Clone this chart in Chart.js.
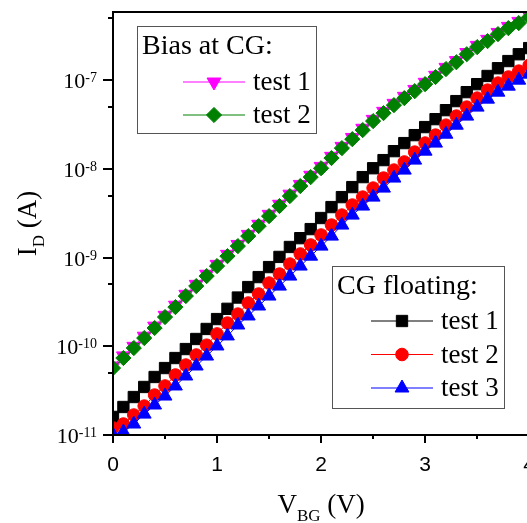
<!DOCTYPE html>
<html>
<head>
<meta charset="utf-8">
<script src="https://cdn.jsdelivr.net/npm/chart.js@4.4.1/dist/chart.umd.min.js"></script>
<style>
	html, body { margin: 0; padding: 0; background: #fff; overflow: hidden; }
	#wrap { width: 560px; height: 523px; }
</style>
</head>
<body>
<div id="wrap"><canvas id="chart" width="560" height="523"></canvas></div>
<script>
// V_BG sweep (V)
const vbg = [
	0, 0.1, 0.2, 0.3, 0.4, 0.5, 0.6, 0.7, 0.8, 0.9, 1.0, 1.1, 1.2, 1.3, 1.4, 1.5, 1.6, 1.7, 1.8, 1.9, 2.0,
	2.1, 2.2, 2.3, 2.4, 2.5, 2.6, 2.7, 2.8, 2.9, 3.0, 3.1, 3.2, 3.3, 3.4, 3.5, 3.6, 3.7, 3.8, 3.9, 4.0,
];

// CG floating
const floatTest1 = [
	1.6e-11, 2.07e-11, 2.68e-11, 3.48e-11, 4.51e-11, 5.69e-11, 7.38e-11, 9.32e-11, 1.21e-10, 1.57e-10,
	2.03e-10, 2.65e-10, 3.55e-10, 4.66e-10, 6.04e-10, 7.83e-10, 1.02e-9, 1.32e-9, 1.66e-9, 2.1e-9,
	2.8e-9, 3.72e-9, 4.82e-9, 6.25e-9, 8.1e-9, 1.02e-8, 1.26e-8, 1.59e-8, 1.96e-8, 2.41e-8,
	2.97e-8, 3.65e-8, 4.61e-8, 5.83e-8, 7.36e-8, 9.06e-8, 1.12e-7, 1.37e-7, 1.65e-7, 1.97e-7, 2.31e-7,
];
const floatTest2 = [
	1.2e-11, 1.33e-11, 1.68e-11, 2.12e-11, 2.82e-11, 3.57e-11, 4.75e-11, 6.15e-11, 7.98e-11, 1.03e-10,
	1.38e-10, 1.83e-10, 2.31e-10, 3.08e-10, 3.89e-10, 5.17e-10, 6.53e-10, 8.47e-10, 1.1e-9, 1.39e-9,
	1.8e-9, 2.33e-9, 3.02e-9, 3.92e-9, 4.82e-9, 6.09e-9, 7.9e-9, 9.72e-9, 1.2e-8, 1.55e-8,
	1.96e-8, 2.41e-8, 3.12e-8, 3.95e-8, 4.99e-8, 6.3e-8, 7.75e-8, 9.3e-8, 1.09e-7, 1.27e-7, 1.48e-7,
];
const floatTest3 = [
	1.0e-11, 1.08e-11, 1.33e-11, 1.72e-11, 2.18e-11, 2.75e-11, 3.57e-11, 4.63e-11, 6.0e-11, 7.77e-11,
	1.01e-10, 1.31e-10, 1.74e-10, 2.2e-10, 2.85e-10, 3.69e-10, 4.78e-10, 6.2e-10, 8.04e-10, 1.04e-9,
	1.35e-9, 1.75e-9, 2.33e-9, 3.02e-9, 3.82e-9, 4.82e-9, 6.09e-9, 7.9e-9, 9.72e-9, 1.26e-8,
	1.59e-8, 1.96e-8, 2.47e-8, 3.12e-8, 3.95e-8, 4.99e-8, 6.14e-8, 7.36e-8, 8.6e-8, 1.005e-7, 1.175e-7,
];

// Bias at CG
const biasTest1 = [
	6.0e-11, 7.8e-11, 1.0e-10, 1.3e-10, 1.69e-10, 2.24e-10, 2.91e-10, 3.86e-10, 5.0e-10, 6.5e-10,
	8.4e-10, 1.09e-9, 1.41e-9, 1.83e-9, 2.38e-9, 3.08e-9, 4.0e-9, 5.2e-9, 6.7e-9, 8.5e-9,
	1.07e-8, 1.39e-8, 1.8e-8, 2.27e-8, 2.88e-8, 3.63e-8, 4.47e-8, 5.5e-8, 6.6e-8, 7.9e-8,
	9.5e-8, 1.14e-7, 1.4e-7, 1.67e-7, 2.06e-7, 2.48e-7, 2.9e-7, 3.47e-7, 4.06e-7, 4.62e-7, 5.4e-7,
];
const biasTest2 = [
	5.69e-11, 7.38e-11, 9.57e-11, 1.24e-10, 1.61e-10, 2.14e-10, 2.77e-10, 3.69e-10, 4.78e-10, 6.2e-10,
	8.04e-10, 1.04e-9, 1.35e-9, 1.75e-9, 2.27e-9, 2.94e-9, 3.82e-9, 4.95e-9, 6.42e-9, 8.1e-9,
	1.02e-8, 1.33e-8, 1.72e-8, 2.17e-8, 2.75e-8, 3.47e-8, 4.27e-8, 5.25e-8, 6.3e-8, 7.55e-8,
	9.06e-8, 1.09e-7, 1.34e-7, 1.6e-7, 1.97e-7, 2.37e-7, 2.77e-7, 3.32e-7, 3.88e-7, 4.42e-7, 5.16e-7,
];

// axis ticks
const xMajorTicks = [0, 1, 2, 3, 4];
const xMinorTicks = [0.5, 1.5, 2.5, 3.5];
const yMajorExps = [-11, -10, -9, -8, -7];
const yMinorTicks = [5e-11, 5e-10, 5e-9, 5e-8, 5e-7];

const SERIF = "'Liberation Serif', 'Times New Roman', serif";
const SANS = "'Liberation Sans', Arial, sans-serif";

const styles = {
	f1: { color: "#000000", pointStyle: "rect", radius: 8, rotation: 0 },
	f2: { color: "#ff0000", pointStyle: "circle", radius: 6.3, rotation: 0 },
	f3: { color: "#0000ff", pointStyle: "triangle", radius: 8, rotation: 0 },
	b1: { color: "#ff00ff", pointStyle: "triangle", radius: 8, rotation: 180 },
	b2: { color: "#008000", pointStyle: "rectRot", radius: 7.6, rotation: 0 },
};

function series(label, values, st) {
	return {
		label: label,
		data: vbg.map((v, i) => ({ x: v, y: values[i] })),
		borderColor: st.color,
		backgroundColor: st.color,
		borderWidth: 1,
		pointStyle: st.pointStyle,
		pointRadius: st.radius,
		pointRotation: st.rotation,
		pointBackgroundColor: st.color,
		pointBorderColor: st.color,
		pointBorderWidth: 1,
		tension: 0,
		clip: 0,
	};
}

function drawMarker(ctx, st, x, y) {
	ctx.save();
	ctx.fillStyle = st.color;
	ctx.strokeStyle = st.color;
	ctx.lineWidth = 1;
	const r = st.radius;
	ctx.beginPath();
	if (st.pointStyle === "rect") {
		const s = r * Math.SQRT1_2;
		ctx.rect(x - s, y - s, 2 * s, 2 * s);
	} else if (st.pointStyle === "circle") {
		ctx.arc(x, y, r, 0, Math.PI * 2);
	} else if (st.pointStyle === "rectRot") {
		ctx.moveTo(x - r, y);
		ctx.lineTo(x, y - r);
		ctx.lineTo(x + r, y);
		ctx.lineTo(x, y + r);
		ctx.closePath();
	} else {
		let rad = (st.rotation * Math.PI) / 180;
		ctx.moveTo(x + Math.sin(rad) * r, y - Math.cos(rad) * r);
		rad += (2 * Math.PI) / 3;
		ctx.lineTo(x + Math.sin(rad) * r, y - Math.cos(rad) * r);
		rad += (2 * Math.PI) / 3;
		ctx.lineTo(x + Math.sin(rad) * r, y - Math.cos(rad) * r);
		ctx.closePath();
	}
	ctx.fill();
	ctx.stroke();
	ctx.restore();
}

function legendBox(ctx, box, title, entries) {
	ctx.save();
	ctx.strokeStyle = "#555";
	ctx.lineWidth = 1;
	ctx.strokeRect(box.x + 0.5, box.y + 0.5, box.w, box.h);
	ctx.fillStyle = "#000";
	ctx.font = "28px " + SERIF;
	ctx.textBaseline = "alphabetic";
	ctx.textAlign = "left";
	ctx.fillText(title, box.x + 5, box.y + 28);
	entries.forEach((e, i) => {
		const cy = box.y + box.firstRow + i * box.rowGap;
		ctx.strokeStyle = e.st.color;
		ctx.lineWidth = 1;
		ctx.beginPath();
		ctx.moveTo(box.lineX0, cy);
		ctx.lineTo(box.lineX1, cy);
		ctx.stroke();
		drawMarker(ctx, e.st, (box.lineX0 + box.lineX1) / 2, cy);
		ctx.fillStyle = "#000";
		ctx.font = "27px " + SERIF;
		ctx.textBaseline = "middle";
		ctx.fillText(e.label, box.lineX1 + 8, cy + 1);
	});
	ctx.restore();
}

const axisDecor = {
	id: "axisDecor",
	afterDraw(chart) {
		const { ctx, chartArea: a } = chart;
		const xs = chart.scales.x;
		const ys = chart.scales.y;
		ctx.save();
		ctx.strokeStyle = "#000";
		ctx.lineWidth = 2;
		ctx.strokeRect(a.left, a.top, a.right - a.left, a.bottom - a.top);

		// y ticks
		yMajorExps.forEach(e => {
			const py = Math.round(ys.getPixelForValue(Math.pow(10, e)));
			ctx.beginPath();
			ctx.moveTo(a.left - 10, py);
			ctx.lineTo(a.left, py);
			ctx.stroke();
			ctx.fillStyle = "#000";
			ctx.textBaseline = "alphabetic";
			ctx.textAlign = "right";
			ctx.font = "14px " + SERIF;
			const expTxt = String(e);
			const ew = ctx.measureText(expTxt).width;
			ctx.fillText(expTxt, a.left - 16, py + 2);
			ctx.font = "22px " + SERIF;
			ctx.fillText("10", a.left - 16 - ew, py + 8);
		});
		yMinorTicks.forEach(v => {
			const py = Math.round(ys.getPixelForValue(v));
			if (py < a.top) return;
			ctx.beginPath();
			ctx.moveTo(a.left - 5, py);
			ctx.lineTo(a.left, py);
			ctx.stroke();
		});

		// x ticks
		xMajorTicks.forEach(v => {
			const px = Math.round(xs.getPixelForValue(v));
			ctx.beginPath();
			ctx.moveTo(px, a.bottom);
			ctx.lineTo(px, a.bottom + 8);
			ctx.stroke();
			ctx.fillStyle = "#000";
			ctx.font = "21px " + SANS;
			ctx.textAlign = "center";
			ctx.textBaseline = "middle";
			ctx.fillText(String(v), px, a.bottom + 30);
		});
		xMinorTicks.forEach(v => {
			const px = Math.round(xs.getPixelForValue(v));
			ctx.beginPath();
			ctx.moveTo(px, a.bottom);
			ctx.lineTo(px, a.bottom + 4);
			ctx.stroke();
		});

		// x title: V_BG (V)
		ctx.textAlign = "left";
		ctx.textBaseline = "alphabetic";
		ctx.font = "27px " + SERIF;
		const wV = ctx.measureText("V").width;
		const wRest = ctx.measureText(" (V)").width;
		ctx.font = "17px " + SERIF;
		const wSub = ctx.measureText("BG").width;
		const cx = xs.getPixelForValue(2);
		const tx = cx - (wV + wSub + wRest) / 2;
		ctx.font = "27px " + SERIF;
		ctx.fillText("V", tx, 513);
		ctx.font = "17px " + SERIF;
		ctx.fillText("BG", tx + wV, 521);
		ctx.font = "27px " + SERIF;
		ctx.fillText(" (V)", tx + wV + wSub, 513);

		// y title: I_D (A)
		ctx.save();
		ctx.translate(36, (a.top + a.bottom) / 2);
		ctx.rotate(-Math.PI / 2);
		ctx.font = "27px " + SERIF;
		const wI = ctx.measureText("I").width;
		const wA = ctx.measureText(" (A)").width;
		ctx.font = "17px " + SERIF;
		const wD = ctx.measureText("D").width;
		const ty = -(wI + wD + wA) / 2;
		ctx.font = "27px " + SERIF;
		ctx.fillText("I", ty, 0);
		ctx.font = "17px " + SERIF;
		ctx.fillText("D", ty + wI, 8);
		ctx.font = "27px " + SERIF;
		ctx.fillText(" (A)", ty + wI + wD, 0);
		ctx.restore();

		ctx.restore();

		// legends
		legendBox(ctx, { x: 137, y: 26, w: 179, h: 107, firstRow: 56, rowGap: 33, lineX0: 183, lineX1: 245 },
			"Bias at CG:", [
				{ label: "test 1", st: styles.b1 },
				{ label: "test 2", st: styles.b2 },
			]);
		legendBox(ctx, { x: 332, y: 266, w: 172, h: 142, firstRow: 55, rowGap: 33.5, lineX0: 371, lineX1: 433 },
			"CG floating:", [
				{ label: "test 1", st: styles.f1 },
				{ label: "test 2", st: styles.f2 },
				{ label: "test 3", st: styles.f3 },
			]);
	},
};

new Chart(document.getElementById("chart"), {
	type: "line",
	data: {
		datasets: [
			series("CG floating: test 3", floatTest3, styles.f3),
			series("CG floating: test 2", floatTest2, styles.f2),
			series("CG floating: test 1", floatTest1, styles.f1),
			series("Bias at CG: test 2", biasTest2, styles.b2),
			series("Bias at CG: test 1", biasTest1, styles.b1),
		],
	},
	options: {
		responsive: false,
		animation: false,
		layout: { padding: { left: 113, top: 12, right: 10, bottom: 88 } },
		plugins: {
			legend: { display: false },
			tooltip: { enabled: false },
		},
		scales: {
			x: { type: "linear", min: 0, max: 4.2, display: false },
			y: { type: "logarithmic", min: 1e-11, max: 5.9e-7, display: false },
		},
	},
	plugins: [axisDecor],
});
</script>
</body>
</html>
